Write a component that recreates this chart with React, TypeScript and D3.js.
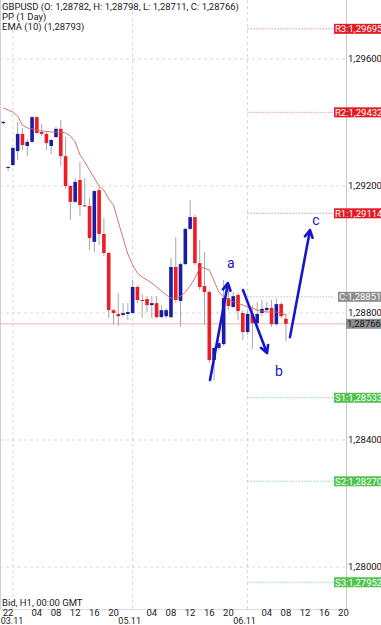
import React from "react";
import * as d3 from "d3";

// ---- data ----
const openP = [1.29398,1.29258,1.29266,1.29310,1.29364,1.29326,1.29339,1.29417,1.29370,1.29364,
1.29326,1.29354,1.29380,1.29294,1.29200,1.29150,1.29219,1.29139,1.29137,1.29024,
1.29187,1.29049,1.28989,1.28809,1.28797,1.28794,1.28797,1.28800,1.28882,1.28841,
1.28844,1.28825,1.28831,1.28787,1.28790,1.28787,1.28945,1.28838,1.28954,1.29065,
1.29102,1.28957,1.28885,1.28866,1.28652,1.28690,1.28702,1.28847,1.28819,1.28857,
1.28800,1.28740,1.28797,1.28768,1.28800,1.28809,1.28816,1.28765,1.28828,1.28782];
const highP = [1.29405,1.29263,1.29323,1.29402,1.29383,1.29348,1.29420,1.29420,1.29395,1.29370,
1.29348,1.29386,1.29408,1.29354,1.29203,1.29225,1.29276,1.29225,1.29162,1.29187,
1.29197,1.29099,1.28992,1.28813,1.28863,1.28831,1.28831,1.28904,1.28888,1.28860,
1.28853,1.28853,1.28853,1.28825,1.28816,1.28973,1.29039,1.28961,1.29068,1.29156,
1.29109,1.29030,1.28992,1.28872,1.28693,1.28715,1.28904,1.28872,1.28866,1.28863,
1.28809,1.28809,1.28825,1.28835,1.28841,1.28835,1.28841,1.28847,1.28835,1.28798];
const lowP = [1.29395,1.29247,1.29263,1.29282,1.29313,1.29294,1.29335,1.29364,1.29357,1.29313,
1.29301,1.29351,1.29263,1.29191,1.29093,1.29146,1.29105,1.29134,1.28998,1.28992,
1.29014,1.28979,1.28784,1.28762,1.28759,1.28790,1.28778,1.28797,1.28831,1.28784,
1.28803,1.28784,1.28784,1.28784,1.28784,1.28784,1.28831,1.28756,1.28951,1.29061,
1.28951,1.28872,1.28762,1.28642,1.28589,1.28683,1.28696,1.28809,1.28816,1.28778,
1.28715,1.28731,1.28687,1.28759,1.28790,1.28803,1.28756,1.28759,1.28784,1.28711];
const closeP = [1.29402,1.29260,1.29320,1.29364,1.29329,1.29339,1.29417,1.29367,1.29364,1.29335,
1.29345,1.29380,1.29294,1.29200,1.29150,1.29213,1.29140,1.29136,1.29036,1.29184,
1.29049,1.28989,1.28809,1.28800,1.28790,1.28800,1.28803,1.28882,1.28841,1.28838,
1.28825,1.28831,1.28787,1.28809,1.28809,1.28945,1.28841,1.28954,1.29065,1.29102,
1.28957,1.28882,1.28866,1.28652,1.28690,1.28705,1.28847,1.28822,1.28853,1.28806,
1.28740,1.28797,1.28768,1.28797,1.28813,1.28816,1.28765,1.28828,1.28790,1.28766];
const emaP = [1.29446,1.29439,1.29433,1.29420,1.29392,1.29383,1.29380,1.29376,1.29373,1.29372,
1.29370,1.29370,1.29370,1.29367,1.29357,1.29339,1.29298,1.29276,1.29250,1.29225,
1.29200,1.29187,1.29159,1.29140,1.29087,1.29036,1.28986,1.28951,1.28926,1.28913,
1.28904,1.28894,1.28882,1.28869,1.28857,1.28847,1.28847,1.28853,1.28866,1.28885,
1.28910,1.28942,1.28942,1.28935,1.28901,1.28866,1.28850,1.28844,1.28835,1.28831,
1.28825,1.28819,1.28816,1.28809,1.28806,1.28803,1.28803,1.28803,1.28800,1.28793];

const priceTicks = [1.296, 1.292, 1.288, 1.284, 1.280];
const timeTickIdx = [1, 7, 11, 15, 19, 23, 31, 35, 39, 43, 47, 55, 59, 63, 67, 71];
const timeTickLabels = ["22","04","08","12","16","20","04","08","12","16","20","04","08","12","16","20"];
const dateIdx = [1, 27, 51];
const dateLabels = ["03.11", "05.11", "06.11"];
const dayGridIdx = [2, 27, 51];

const pivotNames = ["R3","R2","R1","C","S1","S2","S3"];
const pivotValues = [1.29695,1.29432,1.29114,1.28851,1.28533,1.28270,1.27952];
const pivotStartIdx = 51;
const lastPrice = 1.28766;

const headerLines = [
  "GBPUSD (O: 1,28782, H: 1,28798, L: 1,28711, C: 1,28766)",
  "PP (1 Day)",
  "EMA (10) (1,28793)",
];
const footerText = "Bid, H1, 00:00 GMT";

// annotation arrows in (index, price)
const arrows = [
  { from: [43.15, 1.28589], to: [46.9, 1.28894] },
  { from: [50.04, 1.28872], to: [55.05, 1.28674] },
  { from: [59.85, 1.28724], to: [64.03, 1.29061] },
];
const waveLabels = ["a", "b", "c"];
const waveIdx = [47.5, 57.56, 65.28];
const wavePrice = [1.28957, 1.28617, 1.29093];

const fmt = (v: number) => d3.format(".5f")(v).replace(".", ",");

export default function App() {
  const W = 381, H = 625;
  const plotR = 346, plotB = 609;
  const x = d3.scaleLinear().domain([-0.69, 71.54]).range([0, plotR]);
  const y = d3.scaleLinear().domain([1.280, 1.296]).range([567, 59]);
  const blue = "#1c1ca4", red = "#ee1c24", arrowBlue = "#1616cc";
  const font = "Roboto, 'Noto Sans', sans-serif";
  const bw = 3.6;

  const emaLine = d3.line<number>().x((_, i) => x(i)).y((d) => y(d))(emaP) || "";

  const arrowPaths = arrows.map((a) => {
    const x1 = x(a.from[0]), y1 = y(a.from[1]), x2 = x(a.to[0]), y2 = y(a.to[1]);
    const ang = Math.atan2(y2 - y1, x2 - x1);
    const L = 8, spread = 0.5;
    const h1 = [x2 - L * Math.cos(ang - spread), y2 - L * Math.sin(ang - spread)];
    const h2 = [x2 - L * Math.cos(ang + spread), y2 - L * Math.sin(ang + spread)];
    return `M${x1},${y1}L${x2},${y2}M${h1[0]},${h1[1]}L${x2},${y2}L${h2[0]},${h2[1]}`;
  });

  const pivotColor = (n: string) => (n.startsWith("R") ? "#e31c23" : n.startsWith("S") ? "#52c452" : "#8c8c8c");
  const pivotLineColor = (n: string) => (n.startsWith("R") ? "#e06060" : n.startsWith("S") ? "#60c060" : "#a0a0a0");

  return (
    <>
      <style>{"body{margin:0}"}</style>
      <svg width={W} height={H} style={{ display: "block", background: "#fff" }} fontFamily={font}>
        {/* grid */}
        {priceTicks.map((p) => (
          <line key={"hg" + p} x1={0} x2={plotR} y1={y(p)} y2={y(p)} stroke="#d6d6d6" strokeDasharray="3,3" strokeWidth={1} />
        ))}
        {dayGridIdx.map((i) => (
          <line key={"vg" + i} x1={x(i)} x2={x(i)} y1={0} y2={plotB} stroke="#d6d6d6" strokeDasharray="3,3" strokeWidth={1} />
        ))}
        {/* borders */}
        <line x1={0.5} x2={0.5} y1={0} y2={plotB} stroke="#d0d0d0" />
        <line x1={plotR + 0.5} x2={plotR + 0.5} y1={0} y2={plotB} stroke="#c8c8c8" />
        <line x1={0} x2={plotR} y1={plotB + 0.5} y2={plotB + 0.5} stroke="#dcdcdc" />

        {/* pivot lines */}
        {pivotValues.map((v, k) => (
          <line key={"pl" + k} x1={x(pivotStartIdx)} x2={334} y1={y(v)} y2={y(v)} stroke={pivotLineColor(pivotNames[k])} strokeDasharray="1,2" strokeWidth={1} />
        ))}
        {/* last price line */}
        <line x1={0} x2={plotR} y1={y(lastPrice)} y2={y(lastPrice)} stroke="#eeb6b6" strokeWidth={1} />

        {/* candles */}
        {openP.map((o, i) => {
          const c = closeP[i];
          const up = c >= o;
          const top = y(Math.max(o, c)), bot = y(Math.min(o, c));
          return (
            <g key={"c" + i}>
              <line x1={x(i)} x2={x(i)} y1={y(highP[i])} y2={y(lowP[i])} stroke="#a8a8a8" strokeWidth={1} />
              <rect x={x(i) - bw / 2} y={top} width={bw} height={Math.max(1, bot - top)} fill={up ? blue : red} />
            </g>
          );
        })}
        {/* EMA */}
        <path d={emaLine} fill="none" stroke="#c8665e" strokeWidth={0.9} />

        {/* arrows */}
        {arrowPaths.map((d, k) => (
          <path key={"ar" + k} d={d} fill="none" stroke={arrowBlue} strokeWidth={2.6} strokeLinecap="round" strokeLinejoin="round" />
        ))}
        {waveLabels.map((t, k) => (
          <text key={"wl" + k} x={x(waveIdx[k])} y={y(wavePrice[k])} dy="0.35em" textAnchor="middle" fontSize={14} fill={arrowBlue}>{t}</text>
        ))}

        {/* price axis labels */}
        {priceTicks.map((p) => (
          <text key={"pt" + p} x={348} y={y(p)} dy="0.35em" fontSize={9.5} fill="#111">{fmt(p)}</text>
        ))}
        {/* pivot labels */}
        {pivotValues.map((v, k) => {
          const n = pivotNames[k];
          const bx = n === "C" ? 338 : 334;
          return (
            <g key={"pb" + k}>
              <rect x={bx} y={y(v) - 5} width={W - bx} height={10} fill={pivotColor(n)} />
              <text x={bx + 1} y={y(v)} dy="0.35em" fontSize={9.5} fill="#fff">{n + ":" + fmt(v)}</text>
            </g>
          );
        })}
        <rect x={346} y={y(lastPrice) - 5} width={W - 346} height={10} fill="#8e8e8e" />
        <text x={347} y={y(lastPrice)} dy="0.35em" fontSize={9.5} fill="#1a1a1a">{fmt(lastPrice)}</text>

        {/* header */}
        {headerLines.map((t, k) => (
          <text key={"h" + k} x={2} y={10 + k * 9.8} fontSize={9.5} fill="#1a1a1a">{t}</text>
        ))}
        <text x={2} y={606} fontSize={9.5} fill="#1a1a1a">{footerText}</text>

        {/* time axis */}
        {timeTickIdx.map((i, k) => (
          <text key={"tt" + k} x={x(i)} y={616} textAnchor="middle" fontSize={9.5} fill="#1a1a1a">{timeTickLabels[k]}</text>
        ))}
        {dateIdx.map((i, k) => (
          <text key={"dt" + k} x={Math.max(12, x(i) - 3)} y={624} textAnchor="middle" fontSize={9} fill="#1a1a1a">{dateLabels[k]}</text>
        ))}
      </svg>
    </>
  );
}
